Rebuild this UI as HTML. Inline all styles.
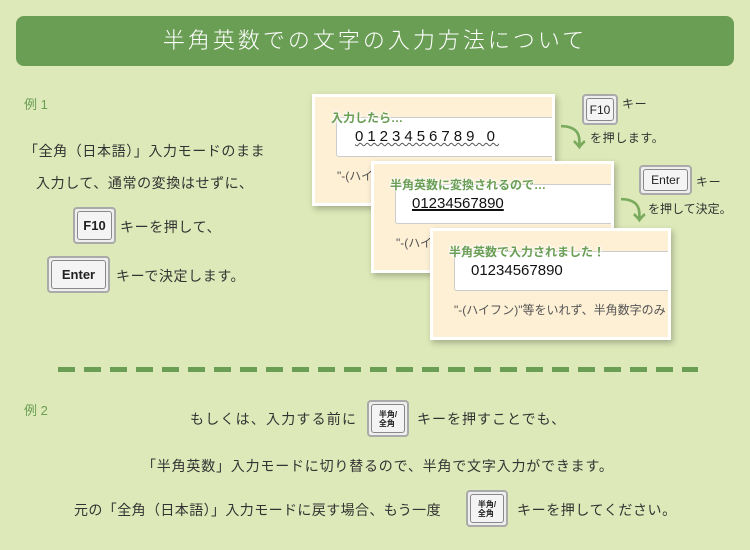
<!DOCTYPE html>
<html><head><meta charset="utf-8"><style>
*{margin:0;padding:0;box-sizing:border-box}
body{width:750px;height:550px;background:#dde9b8;position:relative;overflow:hidden;font-family:"Liberation Sans","Noto Sans CJK JP",sans-serif;color:#333}
.a{position:absolute;white-space:nowrap}
.hdr{left:16px;top:16px;width:718px;height:50px;background:#6a9e55;border-radius:8px;color:#fff;font-size:22px;text-align:center;line-height:50px;letter-spacing:3px;font-weight:300}
.t{font-size:14px;color:#333;letter-spacing:0.6px}
.lbl{font-size:13px;color:#6a9e55}
.key{position:absolute;border:2px solid #aaa;border-radius:4px;background:#eee;padding:2px}
.key div{border:1px solid #888;border-radius:3px;background:#f4f4f4;height:100%;display:flex;align-items:center;justify-content:center;font-size:13px;color:#222;font-weight:bold}
.card{position:absolute;background:#fdf0d5;border:3px solid #fff;box-shadow:2px 3px 6px rgba(0,0,0,.25);overflow:hidden}
.box{position:absolute;background:#fff;border:1px solid #ccc;border-radius:3px;border-right:none;font-size:15px;color:#111}
.gl{position:absolute;font-size:12px;font-weight:bold;color:#6a9e55;text-shadow:0 0 2px #fff,0 0 3px #fff,0 0 4px #fff;white-space:nowrap}
.note{position:absolute;font-size:12px;color:#555;white-space:nowrap}
.arr{position:absolute;color:#7aaa5e;font-size:26px;font-weight:bold}
.dash{left:58px;top:367px;width:640px;height:5px;background:repeating-linear-gradient(90deg,#6a9e55 0 17px,transparent 17px 26px)}
.sk div{font-size:8px;line-height:9px;flex-direction:column}
</style></head><body>
<div class="a hdr">半角英数での文字の入力方法について</div>
<div class="a lbl" style="left:24px;top:94px">例 1</div>
<div class="a t" style="left:24px;top:141px">「全角（日本語）」入力モードのまま</div>
<div class="a t" style="left:36px;top:173px">入力して、通常の変換はせずに、</div>
<div class="key" style="left:73px;top:207px;width:43px;height:37px"><div>F10</div></div>
<div class="a t" style="left:120px;top:217px">キーを押して、</div>
<div class="key" style="left:47px;top:256px;width:63px;height:37px"><div>Enter</div></div>
<div class="a t" style="left:116px;top:266px">キーで決定します。</div>

<div class="card" style="left:312px;top:94px;width:243px;height:112px">
 <div class="box" style="left:21px;top:20px;width:220px;height:40px"><span style="position:absolute;left:18px;top:10px;letter-spacing:4px;text-decoration:underline wavy #555;text-decoration-thickness:1px">0123456789 0</span></div>
 <div class="gl" style="left:16px;top:12px">入力したら…</div>
 <div class="note" style="left:22px;top:70px">"-(ハイフン)"</div>
</div>
<div class="card" style="left:371px;top:161px;width:243px;height:112px">
 <div class="box" style="left:21px;top:20px;width:220px;height:40px"><span style="position:absolute;left:16px;top:10px;text-decoration:underline;text-decoration-thickness:2px">01234567890</span></div>
 <div class="gl" style="left:16px;top:12px">半角英数に変換されるので…</div>
 <div class="note" style="left:22px;top:70px">"-(ハイフン)"</div>
</div>
<div class="card" style="left:430px;top:228px;width:241px;height:112px">
 <div class="box" style="left:21px;top:20px;width:220px;height:40px"><span style="position:absolute;left:16px;top:10px">01234567890</span></div>
 <div class="gl" style="left:16px;top:12px">半角英数で入力されました！</div>
 <div class="note" style="left:21px;top:70px">"-(ハイフン)"等をいれず、半角数字のみ</div>
</div>

<div class="key" style="left:582px;top:94px;width:36px;height:31px"><div style="font-size:12px;font-weight:normal">F10</div></div>
<div class="a t" style="left:622px;top:95px;font-size:12px">キー</div>
<div class="arr" style="left:560px;top:118px">⤵</div>
<div class="a t" style="left:590px;top:129px;font-size:12px">を押します。</div>
<div class="key" style="left:639px;top:165px;width:53px;height:30px"><div style="font-size:12px;font-weight:normal">Enter</div></div>
<div class="a t" style="left:696px;top:173px;font-size:12px">キー</div>
<div class="arr" style="left:620px;top:191px">⤵</div>
<div class="a t" style="left:648px;top:200px;font-size:12px;letter-spacing:0">を押して決定。</div>

<div class="a dash"></div>
<div class="a lbl" style="left:24px;top:400px">例 2</div>
<div class="a t" style="left:190px;top:409px;letter-spacing:1.2px">もしくは、入力する前に</div>
<div class="key sk" style="left:367px;top:400px;width:42px;height:37px"><div>半角/<br>全角</div></div>
<div class="a t" style="left:417px;top:409px;letter-spacing:1px">キーを押すことでも、</div>
<div class="a t" style="left:142px;top:456px;letter-spacing:0.8px">「半角英数」入力モードに切り替るので、半角で文字入力ができます。</div>
<div class="a t" style="left:74px;top:500px;letter-spacing:0.4px">元の「全角（日本語）」入力モードに戻す場合、もう一度</div>
<div class="key sk" style="left:466px;top:490px;width:42px;height:37px"><div>半角/<br>全角</div></div>
<div class="a t" style="left:517px;top:500px;letter-spacing:0.6px">キーを押してください。</div>
</body></html>
